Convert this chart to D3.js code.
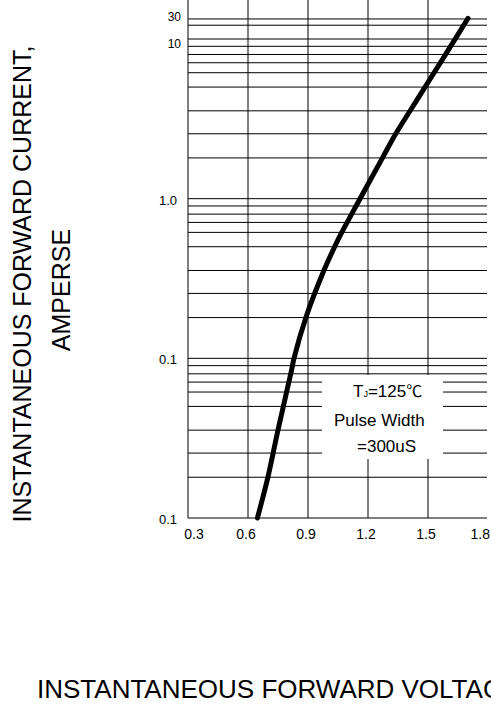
<!DOCTYPE html>
<html>
<head>
<meta charset="utf-8">
<script src="https://cdn.jsdelivr.net/npm/d3@7"></script>
<style>
  body { margin: 0; background: #fff; }
  svg { display: block; }
  text { font-family: "Liberation Sans", Arial, sans-serif; fill: #000; }
</style>
</head>
<body>
<div class="fwd_viz"></div>
<script>
// forward voltage (V) vs instantaneous forward current (A)
var voltage = [0.647, 0.70, 0.75, 0.818, 0.83, 0.89, 0.98, 1.032, 1.068, 1.141, 1.267, 1.338, 1.413, 1.485, 1.563, 1.612, 1.70];
var current = [0.0100, 0.0181, 0.0356, 0.0845, 0.100, 0.181, 0.356, 0.496, 0.612, 0.903, 1.75, 2.54, 3.59, 5.00, 7.14, 8.95, 13.48];

var xTicks = [0.3, 0.6, 0.9, 1.2, 1.5, 1.8];
var xTickLabels = ["0.3", "0.6", "0.9", "1.2", "1.5", "1.8"];

// the printed labels do not follow the decades exactly, so keep them as printed
var yTickValues = [13.35, 10, 1, 0.1, 0.01];
var yTickLabels = ["30", "10", "1.0", "0.1", "0.1"];

// grid inside each decade (hand drawn on the sheet, so not quite 2..9)
var decades = [0.01, 0.1, 1];
var decadeSteps = [1, 1.8, 2.55, 3.55, 5, 6.15, 7.1, 8, 9];
var topLines = [10, 12.2, 13.35];

var noteLines = ["Pulse Width", "=300uS"];

var width = 491, height = 705;
var svg = d3.select(".fwd_viz").append("svg")
  .attr("width", width)
  .attr("height", height);

var x = d3.scaleLinear().domain([0.3, 1.8]).range([188, 488]);
var y = d3.scaleLog().domain([0.01, 10]).range([518, 39]);

var left = x(0.3), right = 487, top = y(13.35), bottom = y(0.01);

var yGrid = [];
decades.forEach(function(d) {
  decadeSteps.forEach(function(s) { yGrid.push(d * s); });
});
yGrid = yGrid.concat(topLines);

var grid = svg.append("g");
grid.selectAll("line.h")
  .data(yGrid)
  .enter().append("line")
  .attr("class", "h")
  .attr("x1", left)
  .attr("x2", right)
  .attr("y1", function(d) { return y(d); })
  .attr("y2", function(d) { return y(d); })
  .attr("stroke", "#000")
  .attr("stroke-width", 1);

grid.selectAll("line.v")
  .data(xTicks.slice(0, -1))
  .enter().append("line")
  .attr("class", "v")
  .attr("x1", function(d) { return x(d); })
  .attr("x2", function(d) { return x(d); })
  .attr("y1", top)
  .attr("y2", bottom)
  .attr("stroke", "#000")
  .attr("stroke-width", 1);

// white note box over the grid
svg.append("rect")
  .attr("x", 322)
  .attr("y", 375)
  .attr("width", 121)
  .attr("height", 84)
  .attr("fill", "#fff");

var t1 = svg.append("text")
  .attr("x", 353)
  .attr("y", 397)
  .style("font-size", "17px");
t1.append("tspan").text("T");
t1.append("tspan").style("font-size", "9px").text("J");
t1.append("tspan").text("=125");
t1.append("tspan").style("font-family", "'Noto Sans CJK SC', sans-serif").style("font-size", "16px").text("\u2103");

svg.selectAll("text.note")
  .data(noteLines)
  .enter().append("text")
  .attr("class", "note")
  .attr("x", function(d, i) { return i == 0 ? 334 : 357; })
  .attr("y", function(d, i) { return 426 + i * 26; })
  .style("font-size", "17px")
  .text(function(d) { return d; });

// curve
var line = d3.line()
  .x(function(d) { return x(d[0]); })
  .y(function(d) { return y(d[1]); })
  .curve(d3.curveCatmullRom);

svg.append("path")
  .datum(d3.zip(voltage, current))
  .attr("d", line)
  .attr("fill", "none")
  .attr("stroke", "#000")
  .attr("stroke-width", 5)
  .attr("stroke-linecap", "round");

// tick labels
svg.selectAll("text.xt")
  .data(xTicks)
  .enter().append("text")
  .attr("class", "xt")
  .attr("x", function(d, i) {
    if (i == 0) return x(d) + 6;
    if (i == xTicks.length - 1) return 490;
    return x(d) - 2;
  })
  .attr("y", 539)
  .attr("text-anchor", function(d, i) { return i == xTicks.length - 1 ? "end" : "middle"; })
  .style("font-size", "14px")
  .text(function(d, i) { return xTickLabels[i]; });

svg.selectAll("text.yt")
  .data(yTickValues)
  .enter().append("text")
  .attr("class", "yt")
  .attr("x", function(d, i) { return i < 2 ? 181 : 177; })
  .attr("y", function(d, i) { return y(d) + (i == 0 ? 2 : i == 1 ? 9 : 6); })
  .attr("text-anchor", "end")
  .style("font-size", function(d, i) { return i < 2 ? "12px" : "13px"; })
  .text(function(d, i) { return yTickLabels[i]; });

// axis titles
svg.append("text")
  .attr("transform", "translate(31,284) rotate(-90)")
  .attr("text-anchor", "middle")
  .style("font-size", "25px")
  .text("INSTANTANEOUS FORWARD CURRENT,");

svg.append("text")
  .attr("transform", "translate(70,290) rotate(-90)")
  .attr("text-anchor", "middle")
  .style("font-size", "25px")
  .text("AMPERSE");

svg.append("text")
  .attr("x", 37)
  .attr("y", 698)
  .style("font-size", "26px")
  .text("INSTANTANEOUS FORWARD VOLTAGE");
</script>
</body>
</html>
